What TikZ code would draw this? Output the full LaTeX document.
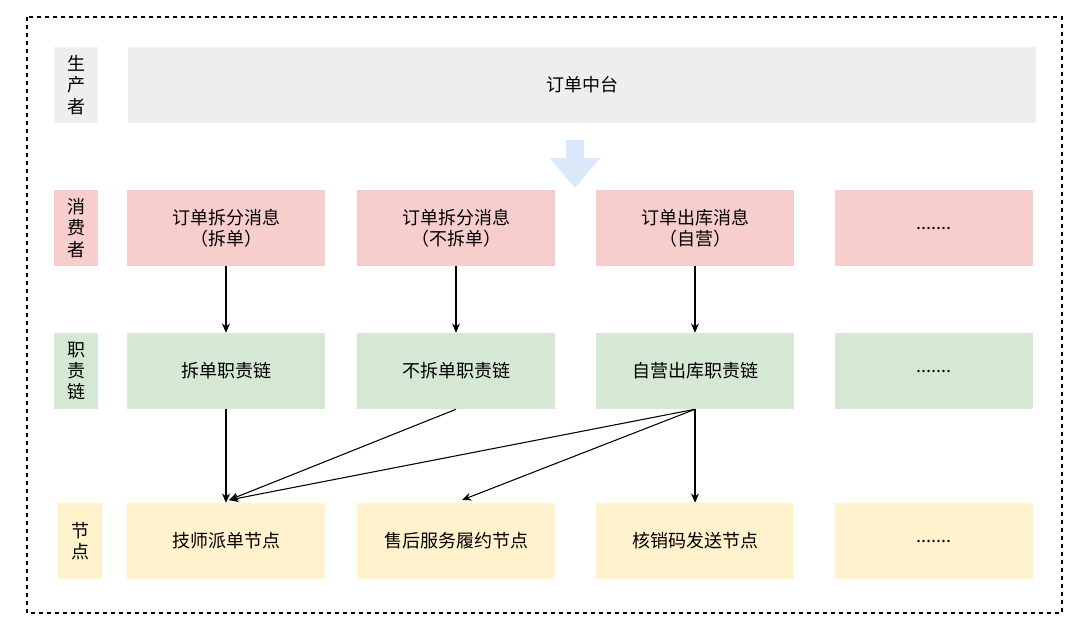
\documentclass[tikz,border=0pt]{standalone}
\usepackage{fontspec}
\setmainfont{Noto Sans CJK SC}
\usetikzlibrary{arrows.meta,positioning}
\definecolor{prodgray}{HTML}{EEEEEE}
\definecolor{conspink}{HTML}{F8CECC}
\definecolor{chaingreen}{HTML}{D5E8D4}
\definecolor{nodeyellow}{HTML}{FFF2CC}
\definecolor{arrowblue}{HTML}{DAE8FC}
\tikzset{
  box/.style={minimum width=148pt,minimum height=57pt,inner sep=0pt,align=center,font=\fontsize{13.5}{16}\selectfont},
  tag/.style={minimum width=33pt,minimum height=57pt,inner sep=0pt,align=center,font=\fontsize{13.5}{16}\selectfont},
  flow/.style={-{Stealth[length=7pt,width=6pt]},thick}
}
\begin{document}
\begin{tikzpicture}[x=0.75pt,y=-0.75pt]
	\useasboundingbox (0,0) rectangle (1080,640);
	\draw [dashed,thick] (27,17) rectangle (1062,613);

	% left tags
	\node [tag,fill=prodgray] (tprod) at (76,85) {生\\产\\者};
	\node [tag,fill=conspink] (tcons) at (76,228) {消\\费\\者};
	\node [tag,fill=chaingreen] (tchain) at (76,371) {职\\责\\链};
	\node [tag,fill=nodeyellow] (tnode) at (80,541) {节\\点};

	% producer
	\node [box,fill=prodgray,minimum width=681pt] (prod) at (582,85) {订单中台};
	\fill [arrowblue] (566,140) -- (584,140) -- (584,158) -- (600,158) -- (575,188) -- (550,158) -- (566,158) -- cycle;

	% consumers
	\node [box,fill=conspink] (c1) at (226,228) {订单拆分消息\\（拆单）};
	\node [box,fill=conspink] (c2) at (456,228) {订单拆分消息\\（不拆单）};
	\node [box,fill=conspink] (c3) at (695,228) {订单出库消息\\（自营）};
	\node [box,fill=conspink] (c4) at (934,228) {.......};

	% chains
	\node [box,fill=chaingreen] (h1) at (226,371) {拆单职责链};
	\node [box,fill=chaingreen] (h2) at (456,371) {不拆单职责链};
	\node [box,fill=chaingreen] (h3) at (695,371) {自营出库职责链};
	\node [box,fill=chaingreen] (h4) at (934,371) {.......};

	% nodes
	\node [box,fill=nodeyellow] (n1) at (226,541) {技师派单节点};
	\node [box,fill=nodeyellow] (n2) at (456,541) {售后服务履约节点};
	\node [box,fill=nodeyellow] (n3) at (695,541) {核销码发送节点};
	\node [box,fill=nodeyellow] (n4) at (934,541) {.......};

	\foreach \i in {1,2,3}
		\draw [flow] (c\i) -- (h\i);
	\coordinate (in1) at (229,500);
	\coordinate (in2) at (462,500);
	\draw [flow] (h1) -- (n1);
	\draw [flow] (h2.south) -- (in1);
	\draw [flow] (h3.south) -- (in1);
	\draw [flow] (h3.south) -- (in2);
	\draw [flow] (h3) -- (n3);
\end{tikzpicture}
\end{document}
